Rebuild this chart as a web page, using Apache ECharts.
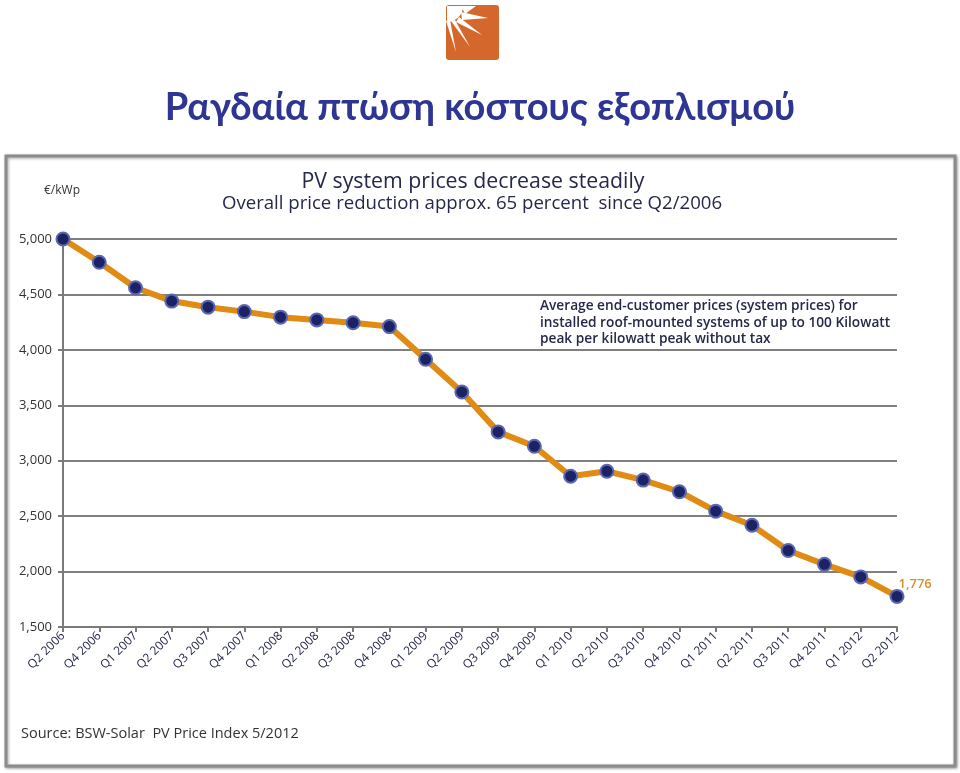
<!DOCTYPE html>
<html>
<head>
<meta charset="utf-8">
<script src="https://cdn.jsdelivr.net/npm/echarts@6/dist/echarts.min.js"></script>
<style>
  html, body { margin: 0; padding: 0; background: #ffffff; }
  #chart { width: 960px; height: 773px; }
</style>
</head>
<body>
<div id="chart"></div>
<script>
// ---- Data ----
const quarters = ['Q2 2006','Q4 2006','Q1 2007','Q2 2007','Q3 2007','Q4 2007','Q1 2008','Q2 2008','Q3 2008','Q4 2008',
  'Q1 2009','Q2 2009','Q3 2009','Q4 2009','Q1 2010','Q2 2010','Q3 2010','Q4 2010','Q1 2011','Q2 2011',
  'Q3 2011','Q4 2011','Q1 2012','Q2 2012'];
const prices = [5000, 4790, 4560, 4440, 4385, 4345, 4295, 4270, 4245, 4210,
  3915, 3620, 3260, 3130, 2860, 2905, 2825, 2720, 2545, 2418,
  2190, 2065, 1952, 1776];
const yTicks = { min: 1500, max: 5000, step: 500 };

const mainTitle = 'Ραγδαία πτώση κόστους εξοπλισμού';
const chartTitle = 'PV system prices decrease steadily';
const chartSubtitle = 'Overall price reduction approx. 65 percent  since Q2/2006';
const unitLabel = '€/kWp';
const noteLines = ['Average end-customer prices (system prices) for',
  'installed roof-mounted systems of up to 100 Kilowatt',
  'peak per kilowatt peak without tax'];
const sourceText = 'Source: BSW-Solar  PV Price Index 5/2012';

const fmt = v => String(v).replace(/\B(?=(\d{3})+(?!\d))/g, ',');
const navy = '#25284a';
const F = '"Open Sans", Lato, sans-serif';
const FT = 'Lato, "Open Sans", sans-serif';

const chart = echarts.init(document.getElementById('chart'), null, { renderer: 'canvas' });

const seriesData = prices.map((v, i) => i === prices.length - 1
  ? { value: v, label: { show: true, position: 'right', offset: [-11, -12], formatter: p => fmt(p.value),
      color: '#d8902a', fontSize: 13, fontFamily: F, fontWeight: 600 } }
  : v);

chart.setOption({
  animation: false,
  backgroundColor: '#ffffff',
  graphic: [
    // chart frame
    { type: 'rect', z: -10, shape: { x: 6, y: 156, width: 949, height: 610 },
      style: { fill: '#ffffff', stroke: '#8c8c8c', lineWidth: 3, shadowBlur: 3, shadowColor: 'rgba(0,0,0,0.35)', shadowOffsetX: 1, shadowOffsetY: 1 } },
    // logo
    { type: 'group', left: 446, top: 5, children: [
      { type: 'rect', shape: { x: 0, y: 0, width: 53, height: 55, r: 3 }, style: { fill: '#d4682c' } },
      { type: 'sector', shape: { cx: 1, cy: 1, r0: 0, r: 16, startAngle: 0, endAngle: Math.PI / 2 }, style: { fill: '#ffffff' } },
      { type: 'polygon', shape: { points: [[15, 1], [30, 1], [19, 9]] }, style: { fill: '#fff' } },
      { type: 'polygon', shape: { points: [[15, 7], [42, 13], [16, 15]] }, style: { fill: '#fff' } },
      { type: 'polygon', shape: { points: [[13, 12], [36, 30], [10, 17]] }, style: { fill: '#fff' } },
      { type: 'polygon', shape: { points: [[9, 15], [24, 42], [5, 16]] }, style: { fill: '#fff' } },
      { type: 'polygon', shape: { points: [[4, 15], [10, 47], [0, 16]] }, style: { fill: '#fff' } }
    ] },
    // chart title and subtitle
    { type: 'text', x: 473, y: 182, style: { text: chartTitle, fill: navy, font: '21.3px ' + F, textAlign: 'center', textVerticalAlign: 'middle' } },
    { type: 'text', x: 472, y: 204, style: { text: chartSubtitle, fill: navy, font: '18.6px ' + F, textAlign: 'center', textVerticalAlign: 'middle' } },
    // note text
    { type: 'text', left: 540, top: 298, style: { text: noteLines.join('\n'), fill: navy, font: '600 13.7px ' + F, lineHeight: 16.5 } }
  ],
  title: [
    { text: mainTitle, left: 'center', top: 84, textStyle: { color: '#2e3592', fontSize: 38, fontWeight: 'bold', fontFamily: FT } },
    { text: unitLabel, left: 44, top: 185, padding: 0, textStyle: { color: '#333', fontSize: 12, fontWeight: 'normal', fontFamily: F } },
    { text: sourceText, left: 21, top: 726, padding: 0, textStyle: { color: '#333', fontSize: 14.5, fontWeight: 'normal', fontFamily: F } }
  ],
  grid: { left: 63, right: 63, top: 239, bottom: 146, containLabel: false },
  xAxis: {
    type: 'category', data: quarters, boundaryGap: false,
    axisLine: { lineStyle: { color: '#7a7a7a', width: 2 } },
    axisTick: { show: true, length: 5, lineStyle: { color: '#7a7a7a', width: 2 } },
    axisLabel: { rotate: 45, interval: 0, color: navy, fontSize: 12, fontFamily: F, margin: 7 }
  },
  yAxis: {
    type: 'value', min: yTicks.min, max: yTicks.max, interval: yTicks.step,
    axisLine: { show: true, lineStyle: { color: '#7a7a7a', width: 2 } },
    axisTick: { show: true, length: 5, lineStyle: { color: '#7a7a7a', width: 2 } },
    axisLabel: { formatter: v => fmt(v), color: '#333', fontSize: 13, fontFamily: F, margin: 11 },
    splitLine: { show: true, lineStyle: { color: '#7f7f7f', width: 2 } }
  },
  series: [{
    type: 'line', data: seriesData,
    lineStyle: { color: '#e08b14', width: 6 },
    symbol: 'circle', symbolSize: 13,
    itemStyle: { color: '#1c2266', borderColor: '#5b67b0', borderWidth: 2 },
    label: { show: false },
    z: 5
  }]
});
</script>
</body>
</html>
